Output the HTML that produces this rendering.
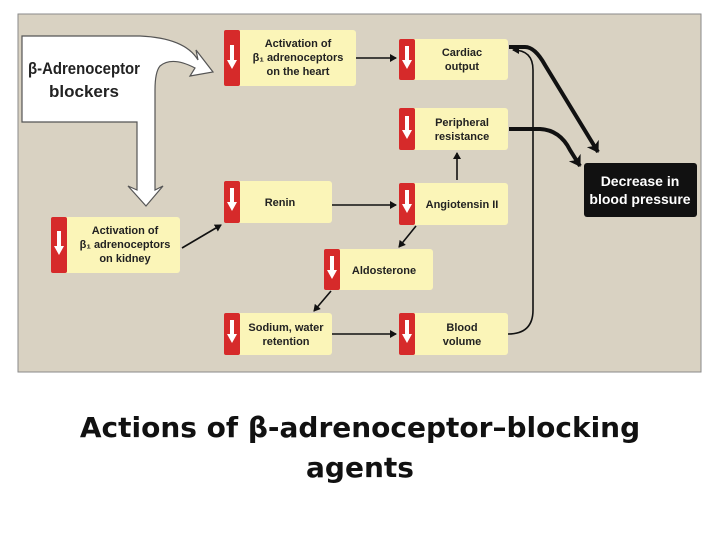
<!DOCTYPE html>
<html><head><style>
body{margin:0;width:720px;height:540px;background:#fff;overflow:hidden;font-family:"Liberation Sans",sans-serif}
.cap{position:absolute;left:0;width:720px;text-align:center;font-family:"DejaVu Sans",sans-serif;font-weight:bold;font-size:28px;color:#111;line-height:40px}
</style></head><body>
<svg width="720" height="540" style="position:absolute;left:0;top:0" font-family="Liberation Sans, sans-serif" font-weight="bold">
<defs>
<marker id="a" markerWidth="8" markerHeight="8" refX="6" refY="4" orient="auto" markerUnits="userSpaceOnUse"><path d="M0,0 L7,4 L0,8 Z" fill="#111"/></marker>
<marker id="b" markerWidth="14" markerHeight="14" refX="10" refY="7" orient="auto" markerUnits="userSpaceOnUse"><path d="M0,0 L11,7 L0,14 L3,7 Z" fill="#111"/></marker>
</defs>
<rect x="18" y="14" width="683" height="358" fill="#d9d2c2" stroke="#8a8a8a" stroke-width="1"/>
<path d="M22,36 L140,36 Q185,38 198,60 L196,50 L213,72 L190,76 L195,68 Q172,56 160,66 Q155,72 155,90 L155,190 L163,186 L146,206 L128,186 L137,190 L137,122 L22,122 Z" fill="#fff" stroke="#555" stroke-width="1.2"/>
<text x="84" y="74" font-size="17" text-anchor="middle" fill="#222" textLength="112" lengthAdjust="spacingAndGlyphs">β-Adrenoceptor</text>
<text x="84" y="97" font-size="17" text-anchor="middle" fill="#222">blockers</text>
<g font-size="11" fill="#222" text-anchor="middle">
<rect x="224" y="30" width="132" height="56" rx="3" fill="#fbf5b8"/><rect x="224" y="30" width="16" height="56" rx="2" fill="#d62a2a"/>
<text x="298" y="47">Activation of</text><text x="298" y="61">β₁ adrenoceptors</text><text x="298" y="75">on the heart</text>
<rect x="399" y="39" width="109" height="41" rx="3" fill="#fbf5b8"/><rect x="399" y="39" width="16" height="41" rx="2" fill="#d62a2a"/>
<text x="462" y="56">Cardiac</text><text x="462" y="70">output</text>
<rect x="399" y="108" width="109" height="42" rx="3" fill="#fbf5b8"/><rect x="399" y="108" width="16" height="42" rx="2" fill="#d62a2a"/>
<text x="462" y="126">Peripheral</text><text x="462" y="140">resistance</text>
<rect x="399" y="183" width="109" height="42" rx="3" fill="#fbf5b8"/><rect x="399" y="183" width="16" height="42" rx="2" fill="#d62a2a"/>
<text x="462" y="208">Angiotensin II</text>
<rect x="224" y="181" width="108" height="42" rx="3" fill="#fbf5b8"/><rect x="224" y="181" width="16" height="42" rx="2" fill="#d62a2a"/>
<text x="280" y="206">Renin</text>
<rect x="51" y="217" width="129" height="56" rx="3" fill="#fbf5b8"/><rect x="51" y="217" width="16" height="56" rx="2" fill="#d62a2a"/>
<text x="125" y="234">Activation of</text><text x="125" y="248">β₁ adrenoceptors</text><text x="125" y="262">on kidney</text>
<rect x="324" y="249" width="109" height="41" rx="3" fill="#fbf5b8"/><rect x="324" y="249" width="16" height="41" rx="2" fill="#d62a2a"/>
<text x="384" y="274">Aldosterone</text>
<rect x="224" y="313" width="108" height="42" rx="3" fill="#fbf5b8"/><rect x="224" y="313" width="16" height="42" rx="2" fill="#d62a2a"/>
<text x="286" y="331">Sodium, water</text><text x="286" y="345">retention</text>
<rect x="399" y="313" width="109" height="42" rx="3" fill="#fbf5b8"/><rect x="399" y="313" width="16" height="42" rx="2" fill="#d62a2a"/>
<text x="462" y="331">Blood</text><text x="462" y="345">volume</text>
</g>
<g fill="#fff">
<path d="M230,45 h4 v15 h3 l-5,9 l-5,-9 h3 z"/>
<path d="M405,46 h4 v14 h3 l-5,9 l-5,-9 h3 z"/>
<path d="M405,116 h4 v14 h3 l-5,9 l-5,-9 h3 z"/>
<path d="M405,190 h4 v14 h3 l-5,9 l-5,-9 h3 z"/>
<path d="M230,188 h4 v14 h3 l-5,9 l-5,-9 h3 z"/>
<path d="M57,231 h4 v15 h3 l-5,9 l-5,-9 h3 z"/>
<path d="M330,256 h4 v14 h3 l-5,9 l-5,-9 h3 z"/>
<path d="M230,320 h4 v14 h3 l-5,9 l-5,-9 h3 z"/>
<path d="M405,320 h4 v14 h3 l-5,9 l-5,-9 h3 z"/>
</g>
<rect x="584" y="163" width="113" height="54" rx="3" fill="#111"/>
<text x="640" y="186" font-size="14" fill="#fff" text-anchor="middle">Decrease in</text>
<text x="640" y="204" font-size="14" fill="#fff" text-anchor="middle">blood pressure</text>
<g stroke="#111" stroke-width="1.6" fill="none">
<line x1="356" y1="58" x2="396" y2="58" marker-end="url(#a)"/>
<line x1="332" y1="205" x2="396" y2="205" marker-end="url(#a)"/>
<line x1="332" y1="334" x2="396" y2="334" marker-end="url(#a)"/>
<line x1="457" y1="180" x2="457" y2="153" marker-end="url(#a)"/>
<line x1="416" y1="226" x2="399" y2="247" marker-end="url(#a)"/>
<line x1="331" y1="291" x2="314" y2="311" marker-end="url(#a)"/>
<line x1="182" y1="248" x2="221" y2="225" marker-end="url(#a)"/>
<path d="M508,334 Q533,334 533,310 L533,70 Q533,50 513,50" marker-end="url(#a)"/>
</g>
<g stroke="#111" stroke-width="4" fill="none">
<path d="M509,47 L525,47 Q535,47 545,65 L598,152" marker-end="url(#b)"/>
<path d="M509,129 L540,129 Q560,130 570,150 L580,166" marker-end="url(#b)"/>
</g>
</svg>
<div class="cap" style="top:408px">Actions of β-adrenoceptor–blocking</div>
<div class="cap" style="top:448px">agents</div>
</body></html>
